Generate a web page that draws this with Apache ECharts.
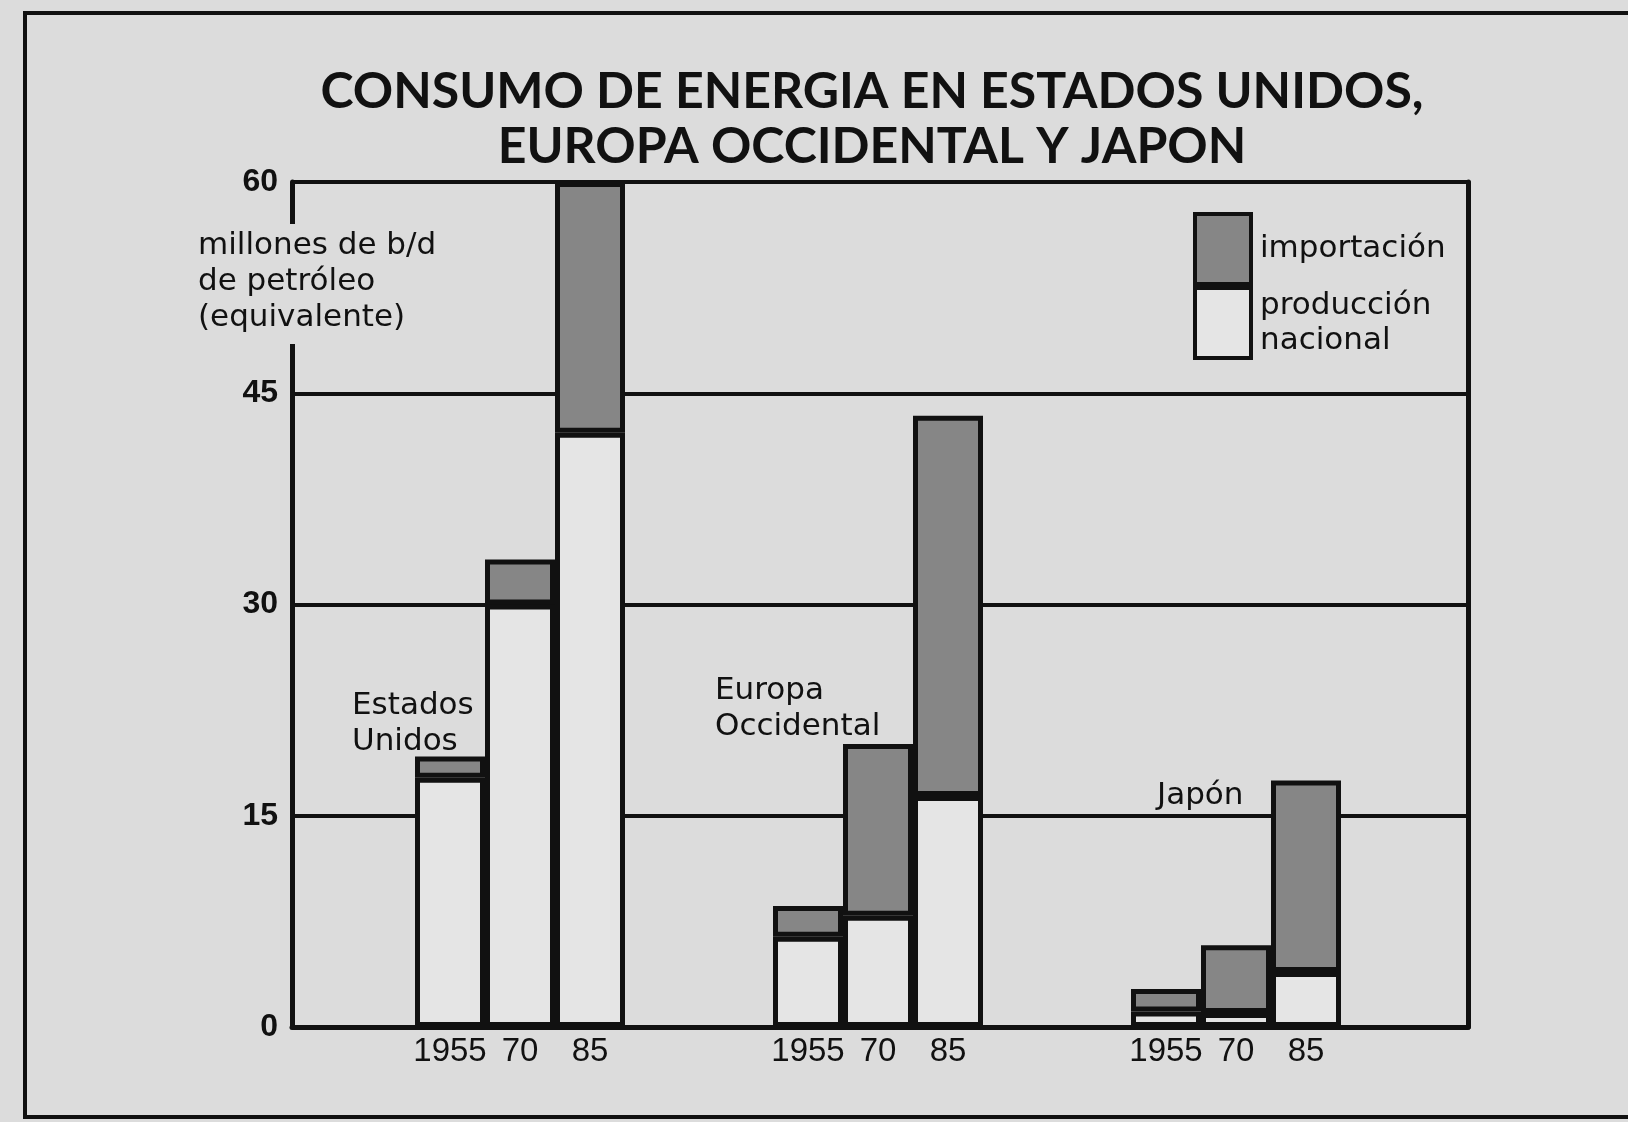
<!DOCTYPE html>
<html>
<head>
<meta charset="utf-8">
<script src="https://cdn.jsdelivr.net/npm/echarts@6/dist/echarts.min.js"></script>
<style>
html,body{margin:0;padding:0;background:#dcdcdc;}
#chart{width:1628px;height:1122px;}
</style>
</head>
<body>
<div id="chart"></div>
<script>
// ---- data (millones de b/d de petróleo equivalente) ----
const regions = ['Estados\nUnidos', 'Europa\nOccidental', 'Japón'];
const years = ['1955', '70', '85'];
const yTicks = [0, 15, 30, 45, 60];
// producción nacional per region: [1955, 1970, 1985]
const prodUS = [17.7, 30.0, 42.2];
const prodEU = [6.4, 7.9, 16.4];
const prodJP = [1.1, 1.0, 3.9];
// importación per region: [1955, 1970, 1985]
const impUS = [1.5, 3.2, 17.8];
const impEU = [2.2, 12.2, 27.0];
const impJP = [1.6, 4.8, 13.6];

const titleText = 'CONSUMO DE ENERGIA EN ESTADOS UNIDOS,\nEUROPA OCCIDENTAL Y JAPON';
const yName = 'millones de b/d\nde petróleo\n(equivalente)';
const nameImp = 'importación';
const nameProd = 'producción nacional';

// ---- styles ----
const PAPER = '#dcdcdc';
const BARFILL = '#e5e5e5';
const INK = '#111111';
const GREY = '#868686';
const NUMF = '"Liberation Sans", Arial, sans-serif';
const TEXTF = '"DejaVu Sans", sans-serif';
const TITLEF = 'Lato, "Open Sans", sans-serif';

const chart = echarts.init(document.getElementById('chart'), null, {renderer: 'canvas'});

const series = [];
for (let i = 0; i < years.length; i++) {
  series.push({
    name: nameProd, type: 'bar', xAxisIndex: 1, yAxisIndex: 2, stack: 'y' + i,
    barWidth: 70, barGap: '0%',
    data: [prodUS[i], prodEU[i], prodJP[i]],
    itemStyle: {color: BARFILL, borderColor: INK, borderWidth: 5},
    label: {show: true, position: 'bottom', distance: 8, formatter: () => years[i],
      color: INK, fontSize: 33, fontFamily: NUMF},
    emphasis: {disabled: true}
  });
  series.push({
    name: nameImp, type: 'bar', xAxisIndex: 1, yAxisIndex: 2, stack: 'y' + i,
    barWidth: 70, barGap: '0%',
    data: [impUS[i], impEU[i], impJP[i]],
    itemStyle: {color: GREY, borderColor: INK, borderWidth: 5},
    emphasis: {disabled: true}
  });
}

const regionPos = [[352, 688], [715, 673], [1157, 778]];

const option = {
  backgroundColor: PAPER,
  animation: false,
  grid: [
    {left: 292, right: 160, top: 182, bottom: 95},
    {left: 341, right: 213, top: 182, bottom: 95}
  ],
  xAxis: [
    {gridIndex: 0, type: 'value', min: 0, max: 1,
      axisLine: {show: true, lineStyle: {color: INK, width: 5}},
      axisTick: {show: false}, axisLabel: {show: false}, splitLine: {show: false}},
    {gridIndex: 1, type: 'category', data: regions,
      axisLine: {show: false}, axisTick: {show: false}, axisLabel: {show: false}}
  ],
  yAxis: [
    {gridIndex: 0, type: 'value', min: 0, max: 60, interval: 15,
      axisLine: {show: true, lineStyle: {color: INK, width: 5}},
      axisTick: {show: false},
      axisLabel: {color: INK, fontSize: 32, fontWeight: 'bold', fontFamily: NUMF, margin: 14,
        formatter: v => yTicks.indexOf(v) >= 0 ? String(v) : ''},
      splitLine: {show: true, lineStyle: {color: INK, width: 4}}},
    {gridIndex: 0, type: 'value', min: 0, max: 60, interval: 15, position: 'right',
      axisLine: {show: true, lineStyle: {color: INK, width: 5}},
      axisTick: {show: false}, axisLabel: {show: false}, splitLine: {show: false}},
    {gridIndex: 1, type: 'value', min: 0, max: 60, interval: 15, show: false,
      splitLine: {show: false}}
  ],
  legend: {
    orient: 'vertical', left: 1188, top: 207,
    data: [nameImp, nameProd],
    itemWidth: 56, itemHeight: 70, itemGap: 0,
    selectedMode: false,
    icon: 'rect',
    itemStyle: {borderColor: INK, borderWidth: 4},
    formatter: n => n.replace(' ', '\n'),
    textStyle: {color: INK, fontSize: 31, lineHeight: 35, fontFamily: TEXTF, padding: [0, 0, 0, 4]}
  },
  series: series,
  graphic: [
    {type: 'rect', z: 100, shape: {x: 25, y: 13, width: 1700, height: 1104},
      style: {fill: 'none', stroke: INK, lineWidth: 4}},
    {type: 'text', z: 100, x: 872, y: 64,
      style: {text: titleText, textAlign: 'center', textVerticalAlign: 'top',
        font: 'bold 50px ' + TITLEF, lineHeight: 55, fill: INK}},
    {type: 'text', z: 100, x: 196, y: 224,
      style: {text: yName, textAlign: 'left', textVerticalAlign: 'top',
        fontSize: 31, fontFamily: TEXTF, lineHeight: 36, fill: INK,
        backgroundColor: PAPER, padding: [4, 6, 8, 2]}}
  ].concat(regions.map((r, k) => ({
    type: 'text', z: 100, x: regionPos[k][0], y: regionPos[k][1],
    style: {text: r, textAlign: 'left', textVerticalAlign: 'top',
      fontSize: 31, fontFamily: TEXTF, lineHeight: 36, fill: INK}
  })))
};

chart.setOption(option);
</script>
</body>
</html>
